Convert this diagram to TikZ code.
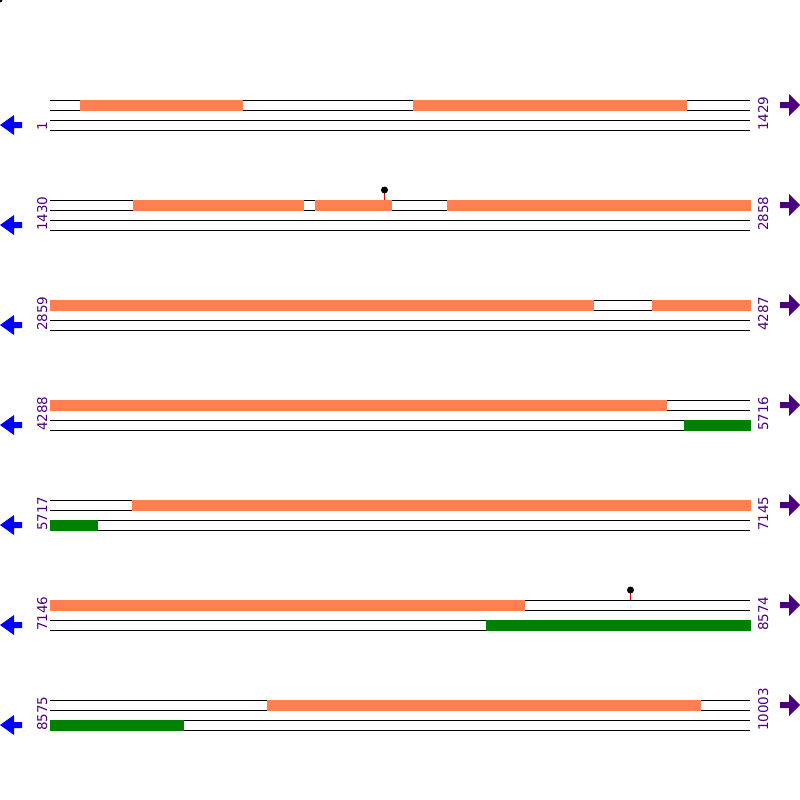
\documentclass[tikz,border=0pt]{standalone}
\usepackage{fontspec}
\setmainfont{DejaVu Sans}
\definecolor{bar}{HTML}{FF7F50}
\definecolor{grn}{HTML}{008000}
\definecolor{num}{HTML}{4B0082}
\begin{document}
\begin{tikzpicture}[x=1pt,y=-1pt,
  track/.style={black,line width=1pt},
  obar/.style={fill=bar,draw=none},
  gbar/.style={fill=grn,draw=none},
  lnum/.style={rotate=90,anchor=base west,inner sep=0pt,text=num,font=\fontsize{13.5}{14}\selectfont},
  larr/.style={fill=blue,draw=none},
  rarr/.style={fill=num,draw=none},
  stick/.style={red,line width=1pt},
  pin/.style={fill=black,draw=none}]
\useasboundingbox (0,0) rectangle (800,800);
\fill[black] (0,0) circle (2.5);
% rows: base, left label, right label
\foreach \b/\l/\r [count=\i] in {100/1/1429,200/1430/2858,300/2859/4287,400/4288/5716,500/5717/7145,600/7146/8574,700/8575/10003}{
  \foreach \k in {0,10,20,30}{\draw[track] (50,\b+\k+0.5) -- (750,\b+\k+0.5);}
  \node[lnum] (l\i) at (47,\b+31) {\l};
  \node[lnum] (r\i) at (768,\b+31) {\r};
  \fill[larr] (0,\b+25) -- (14,\b+15) -- (14,\b+22) -- (22,\b+22) -- (22,\b+28) -- (14,\b+28) -- (14,\b+35) -- cycle;
  \fill[rarr] (800,\b+5) -- (789,\b-6) -- (789,\b+2) -- (780,\b+2) -- (780,\b+8) -- (789,\b+8) -- (789,\b+16) -- cycle;
}
% upper (orange) bars
\foreach \b/\s/\e in {100/80/243,100/413/687,200/133/304,200/315/392,200/447/751,300/50/594,300/652/751,400/50/667,500/132/751,600/50/525,700/267/701}{
  \fill[obar] (\s,\b) rectangle (\e,\b+11);
}
% lower (green) bars
\foreach \b/\s/\e in {400/684/751,500/50/98,600/486/751,700/50/184}{
  \fill[gbar] (\s,\b+20) rectangle (\e,\b+31);
}
% lollipops
\foreach \x/\b in {384.5/200,630.5/600}{
  \draw[stick] (\x,\b) -- (\x,\b-10);
  \fill[pin] (\x,\b-10) circle (3.5);
}
\end{tikzpicture}
\end{document}
